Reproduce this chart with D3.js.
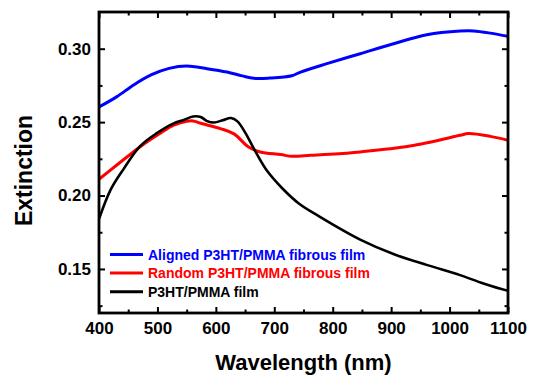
<!DOCTYPE html>
<html>
<head>
<meta charset="utf-8">
<script src="https://cdn.jsdelivr.net/npm/d3@7"></script>
<style>
  html, body { margin: 0; padding: 0; background: #fff; }
  svg { display: block; font-family: "Liberation Sans", Arial, sans-serif; }
</style>
</head>
<body>
<svg id="chart" width="534" height="379"></svg>
<script>
// ---- data ----
const xMajorTicks = [400, 500, 600, 700, 800, 900, 1000, 1100];
const xMinorTicks = [450, 550, 650, 750, 850, 950, 1050];
const yMajorTicks = [0.15, 0.20, 0.25, 0.30];
const yMinorTicks = [0.125, 0.175, 0.225, 0.275];
const yTickLabels = ["0.15", "0.20", "0.25", "0.30"];

const alignedWl = [400, 430, 460, 490, 520, 550, 585, 619, 645, 665, 692, 730, 745, 790, 847, 904, 961, 1018, 1041, 1070, 1100];
const alignedExt = [0.2603, 0.2672, 0.2755, 0.2823, 0.2866, 0.2882, 0.2864, 0.2841, 0.2815, 0.2798, 0.2800, 0.2816, 0.2841, 0.2898, 0.2966, 0.3034, 0.3095, 0.3120, 0.3121, 0.3106, 0.3084];

const randomWl = [400, 430, 470, 504, 527, 550, 561, 574, 608, 631, 656, 676, 711, 730, 762, 795, 847, 932, 1018, 1032, 1070, 1100];
const randomExt = [0.2111, 0.2206, 0.2331, 0.2422, 0.2478, 0.2505, 0.2508, 0.2492, 0.2456, 0.2420, 0.2331, 0.2297, 0.2279, 0.2267, 0.2274, 0.2281, 0.2297, 0.2337, 0.2410, 0.2422, 0.2403, 0.2376];

const filmWl = [400, 420, 442, 470, 499, 527, 545, 561, 574, 585, 597, 612, 626, 637, 650, 665, 687, 714, 742, 776, 847, 905, 962, 1018, 1058, 1100];
const filmExt = [0.1840, 0.2040, 0.2180, 0.2335, 0.2425, 0.2490, 0.2515, 0.2538, 0.2535, 0.2507, 0.2497, 0.2513, 0.2528, 0.2505, 0.2430, 0.2320, 0.2172, 0.2048, 0.1946, 0.1860, 0.1700, 0.1600, 0.1526, 0.1458, 0.1401, 0.1351];

const seriesNames = ["Aligned P3HT/PMMA fibrous film", "Random P3HT/PMMA fibrous film", "P3HT/PMMA film"];
const seriesColors = ["#0000ff", "#ff0000", "#000000"];

// ---- layout ----
const svg = d3.select("#chart");
const L = 99, R = 508, T = 12, B = 313;
const x = d3.scaleLinear().domain([400, 1100]).range([L, R]);
const y = d3.scaleLinear().domain([0.12, 0.325]).range([B, T]);

const series = [
  { name: seriesNames[0], color: seriesColors[0], w: 3, pts: alignedWl.map((d, i) => [d, alignedExt[i]]) },
  { name: seriesNames[1], color: seriesColors[1], w: 3, pts: randomWl.map((d, i) => [d, randomExt[i]]) },
  { name: seriesNames[2], color: seriesColors[2], w: 2.6, pts: filmWl.map((d, i) => [d, filmExt[i]]) }
];

const line = d3.line().x(d => x(d[0])).y(d => y(d[1])).curve(d3.curveCatmullRom.alpha(0.5));

svg.append("defs").append("clipPath").attr("id", "clip")
  .append("rect").attr("x", L).attr("y", T).attr("width", R - L).attr("height", B - T);

const g = svg.append("g").attr("clip-path", "url(#clip)");
series.forEach(s => {
  g.append("path").datum(s.pts)
    .attr("fill", "none").attr("stroke", s.color)
    .attr("stroke-width", s.w).attr("stroke-linejoin", "round")
    .attr("d", line);
});

// ---- axes (inward ticks on all sides) ----
const fontTick = "17px";
function styleAxis(sel) {
  sel.select(".domain").remove();
  sel.selectAll(".tick line").attr("stroke", "#000").attr("stroke-width", 2);
  sel.selectAll(".tick text").attr("fill", "#000").attr("font-weight", "bold")
    .attr("font-size", fontTick).attr("font-family", "Liberation Sans, Arial, sans-serif");
}

// bottom
svg.append("g").attr("transform", `translate(0,${B})`)
  .call(d3.axisBottom(x).tickValues(xMajorTicks).tickSize(-6).tickPadding(9).tickFormat(d3.format("d")))
  .call(styleAxis);
svg.append("g").attr("transform", `translate(0,${B})`)
  .call(d3.axisBottom(x).tickValues(xMinorTicks).tickSize(-3.5).tickFormat(""))
  .call(styleAxis);
// top
svg.append("g").attr("transform", `translate(0,${T})`)
  .call(d3.axisTop(x).tickValues(xMajorTicks).tickSize(-6).tickFormat(""))
  .call(styleAxis);
svg.append("g").attr("transform", `translate(0,${T})`)
  .call(d3.axisTop(x).tickValues(xMinorTicks).tickSize(-3.5).tickFormat(""))
  .call(styleAxis);
// left
svg.append("g").attr("transform", `translate(${L},0)`)
  .call(d3.axisLeft(y).tickValues(yMajorTicks).tickSize(-6).tickPadding(8).tickFormat((d, i) => yTickLabels[i]))
  .call(styleAxis);
svg.append("g").attr("transform", `translate(${L},0)`)
  .call(d3.axisLeft(y).tickValues(yMinorTicks).tickSize(-3.5).tickFormat(""))
  .call(styleAxis);
// right
svg.append("g").attr("transform", `translate(${R},0)`)
  .call(d3.axisRight(y).tickValues(yMajorTicks).tickSize(-6).tickFormat(""))
  .call(styleAxis);
svg.append("g").attr("transform", `translate(${R},0)`)
  .call(d3.axisRight(y).tickValues(yMinorTicks).tickSize(-3.5).tickFormat(""))
  .call(styleAxis);

// frame
svg.append("rect").attr("x", L).attr("y", T).attr("width", R - L).attr("height", B - T)
  .attr("fill", "none").attr("stroke", "#000").attr("stroke-width", 2.8);

// axis titles
svg.append("text").attr("x", (L + R) / 2).attr("y", 370)
  .attr("text-anchor", "middle").attr("font-weight", "bold").attr("font-size", "22px")
  .text("Wavelength (nm)");
svg.append("text").attr("transform", `translate(32,${(T + B) / 2 + 8}) rotate(-90)`)
  .attr("text-anchor", "middle").attr("font-weight", "bold").attr("font-size", "23px")
  .text("Extinction");

// legend
const legY0 = 254.5, legDy = 18.6;
series.forEach((s, i) => {
  const yy = legY0 + i * legDy;
  svg.append("line").attr("x1", 110).attr("x2", 143).attr("y1", yy).attr("y2", yy)
    .attr("stroke", s.color).attr("stroke-width", 3);
  svg.append("text").attr("x", 148).attr("y", yy + 5)
    .attr("fill", s.color).attr("font-weight", "bold").attr("font-size", "14px")
    .text(s.name);
});
</script>
</body>
</html>
